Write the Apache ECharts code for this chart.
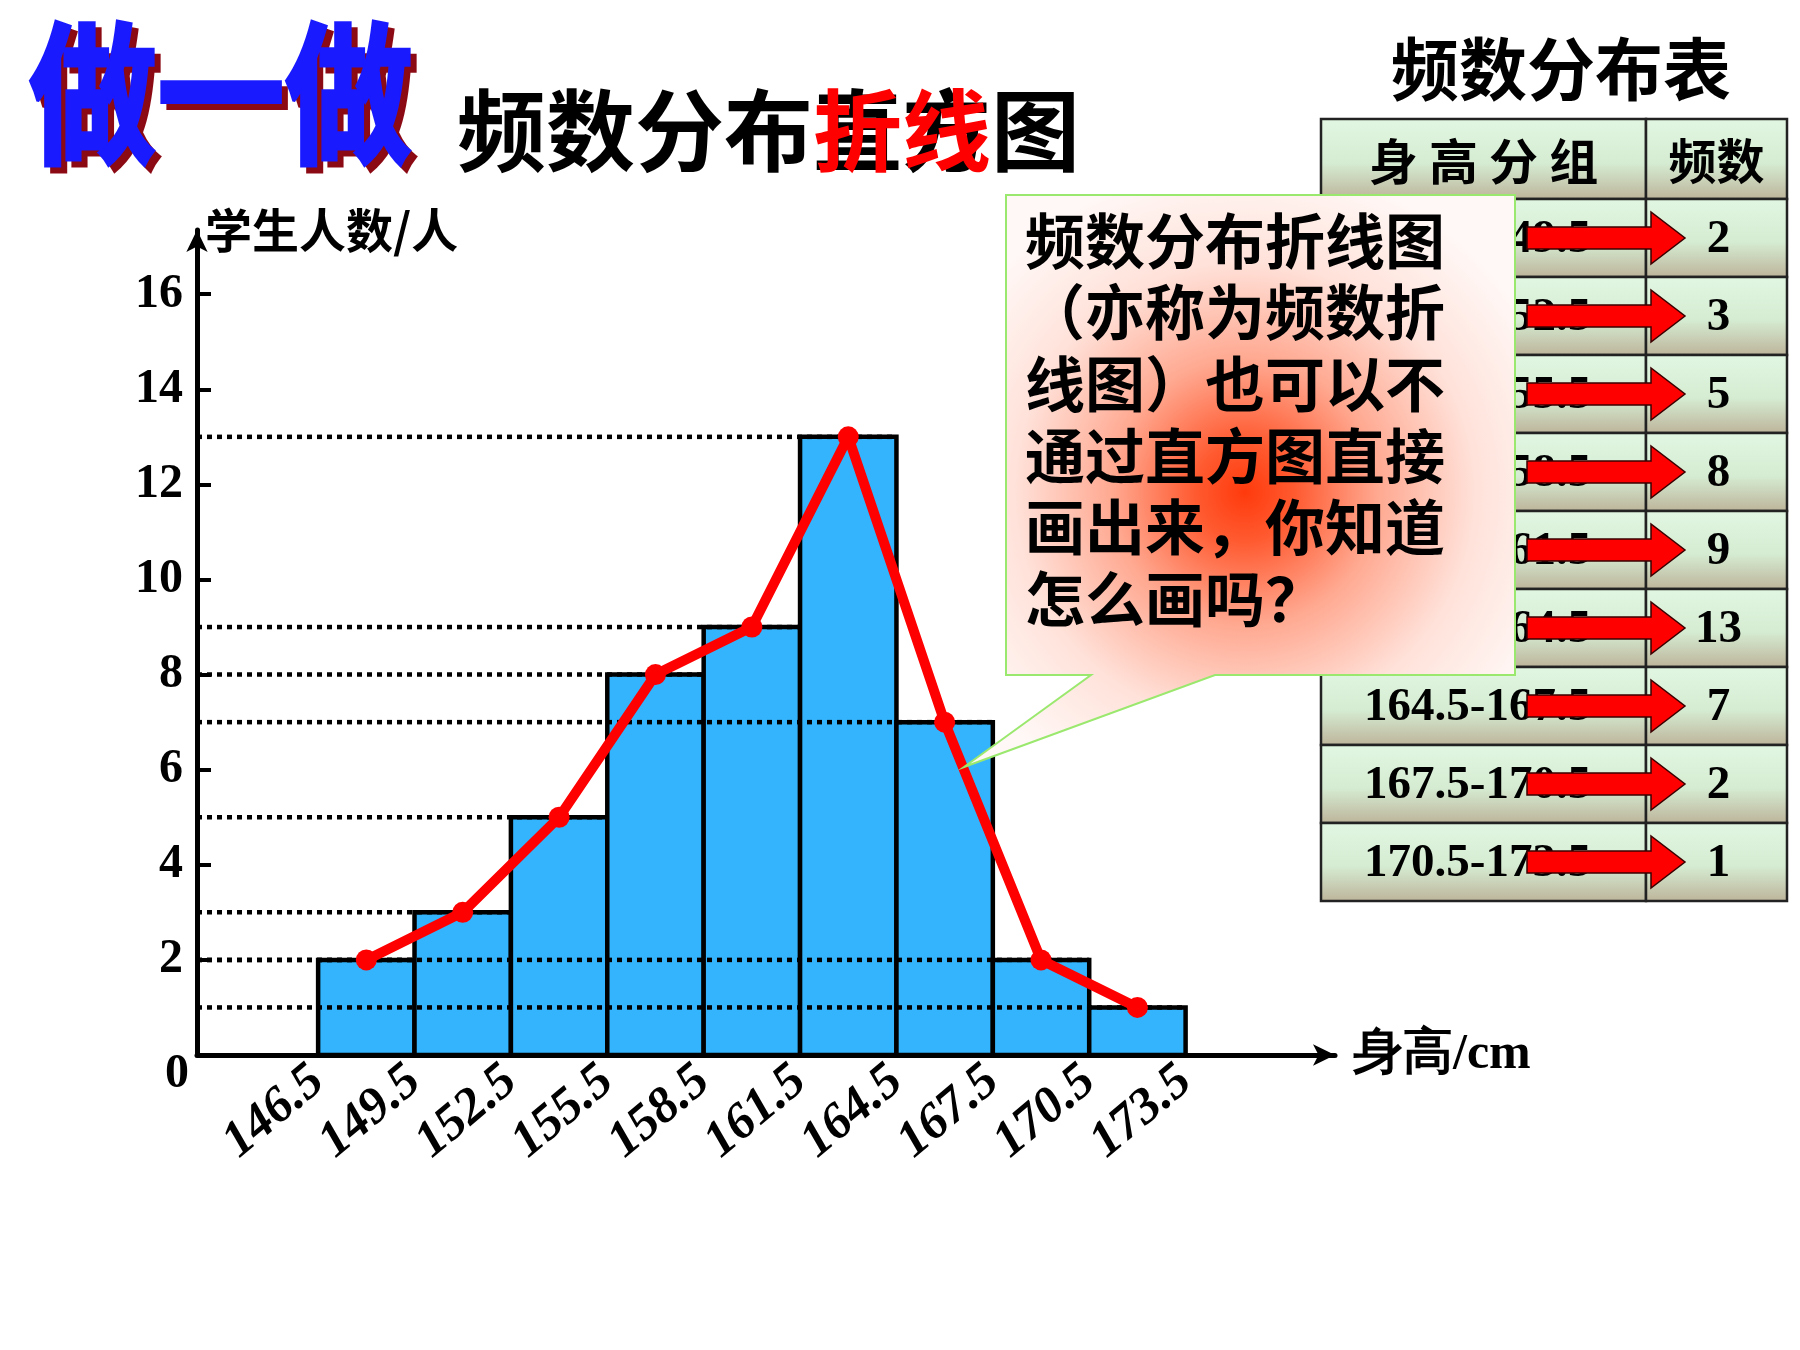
<!DOCTYPE html>
<html>
<head>
<meta charset="utf-8">
<title>频数分布折线图</title>
<script src="https://cdn.jsdelivr.net/npm/echarts@6/dist/echarts.min.js"></script>
<style>
html, body { margin: 0; padding: 0; background: #fff; }
#main { width: 1800px; height: 1350px; }
</style>
</head>
<body>
<div id="main"></div>
<script>
// bin edges (cm), class marks and counts
var edges = [146.5, 149.5, 152.5, 155.5, 158.5, 161.5, 164.5, 167.5, 170.5, 173.5];
var mids = [148, 151, 154, 157, 160, 163, 166, 169, 172];
var freq = [2, 3, 5, 8, 9, 13, 7, 2, 1];
var yTicks = [0, 2, 4, 6, 8, 10, 12, 14, 16];
var groups = ['146.5-149.5', '149.5-152.5', '152.5-155.5', '155.5-158.5', '158.5-161.5',
	'161.5-164.5', '164.5-167.5', '167.5-170.5', '170.5-173.5'];
var calloutLines = ['频数分布折线图', '（亦称为频数折', '线图）也可以不', '通过直方图直接', '画出来，你知道', '怎么画吗？'];

var SERIF = '"Liberation Serif", "Times New Roman", serif';
var HEI = '"Noto Sans CJK SC", sans-serif';

var barData = [];
var dotData = [];
var lineData = [];
for (var i = 0; i < freq.length; i++) {
	barData.push([edges[i], edges[i + 1], freq[i]]);
	dotData.push([edges[i + 1], freq[i]]);
	lineData.push([mids[i], freq[i]]);
}

// frequency table on the right
var tableEls = [];
var tx0 = 1321, tx1 = 1646, tx2 = 1787, headTop = 119, headH = 80, rowH = 78;
var cellFill = {
	type: 'linear', x: 0, y: 0, x2: 0, y2: 1,
	colorStops: [{ offset: 0, color: '#e2f7e2' }, { offset: 0.55, color: '#d5ecd2' }, { offset: 1, color: '#bcb399' }]
};
function cell(x, y, w, h) {
	tableEls.push({
		type: 'rect', z: 1,
		shape: { x: x, y: y, width: w, height: h },
		style: { fill: cellFill, stroke: '#222', lineWidth: 2.5 }
	});
}
cell(tx0, headTop, tx1 - tx0, headH);
cell(tx1, headTop, tx2 - tx1, headH);
tableEls.push({ type: 'text', z: 2, x: (tx0 + tx1) / 2, y: headTop + headH / 2 + 2,
	style: { text: '身 高 分 组', font: 'bold 49px ' + HEI, fill: '#000', align: 'center', verticalAlign: 'middle' } });
tableEls.push({ type: 'text', z: 2, x: (tx1 + tx2) / 2, y: headTop + headH / 2 + 2,
	style: { text: '频数', font: 'bold 48px ' + HEI, fill: '#000', align: 'center', verticalAlign: 'middle' } });
for (var r = 0; r < groups.length; r++) {
	var ry = headTop + headH + r * rowH;
	var cy = ry + rowH / 2;
	cell(tx0, ry, tx1 - tx0, rowH);
	cell(tx1, ry, tx2 - tx1, rowH);
	tableEls.push({ type: 'text', z: 2, x: 1364, y: cy + 2,
		style: { text: groups[r], font: 'bold 47px ' + SERIF, fill: '#000', align: 'left', verticalAlign: 'middle' } });
	tableEls.push({ type: 'text', z: 2, x: (tx1 + tx2) / 2 + 2, y: cy + 2,
		style: { text: String(freq[r]), font: 'bold 47px ' + SERIF, fill: '#000', align: 'center', verticalAlign: 'middle' } });
	tableEls.push({
		type: 'polygon', z: 3,
		shape: { points: [[1527, cy - 11], [1651, cy - 11], [1651, cy - 26], [1685, cy], [1651, cy + 26], [1651, cy + 11], [1527, cy + 11]] },
		style: { fill: '#ff0000', stroke: '#3a0000', lineWidth: 1.5 }
	});
}

// speech bubble
var bubbleEls = [{
	type: 'polygon', z: 10,
	shape: { points: [[1006, 195], [1515, 195], [1515, 675], [1215, 675], [964, 767], [1091, 675], [1006, 675]] },
	style: {
		fill: {
			type: 'radial', x: 1245, y: 492, r: 330, global: true,
			colorStops: [
				{ offset: 0, color: '#ff3a0c' },
				{ offset: 0.15, color: '#ff5a30' },
				{ offset: 0.4, color: '#ffa890' },
				{ offset: 0.7, color: '#ffe2da' },
				{ offset: 1, color: '#fff8f6' }
			]
		},
		stroke: '#9be86e', lineWidth: 2
	}
}];
for (var k = 0; k < calloutLines.length; k++) {
	bubbleEls.push({ type: 'text', z: 11, x: 1025, y: 241 + k * 71.6,
		style: { text: calloutLines[k], font: 'bold 60px ' + HEI, fill: '#000', align: 'left', verticalAlign: 'middle' } });
}

var titleEls = [
	{ type: 'text', z: 5, x: 35, y: 23, scaleY: 1.2,
		style: { text: '做一做', font: 'bold 128px ' + HEI, fill: '#8b0a14', stroke: '#8b0a14', lineWidth: 3, verticalAlign: 'top' } },
	{ type: 'text', z: 6, x: 29, y: 17, scaleY: 1.2,
		style: { text: '做一做', font: 'bold 128px ' + HEI, fill: '#1a1aff', stroke: '#1a1aff', lineWidth: 3, verticalAlign: 'top' } },
	{ type: 'text', z: 5, x: 457, y: 130,
		style: { text: '频数分布直方图', font: 'bold 89px ' + HEI, fill: '#000', verticalAlign: 'middle' } },
	{ type: 'text', z: 6, x: 457 + 4 * 89, y: 130,
		style: { text: '折线', font: 'bold 89px ' + HEI, fill: '#ff0000', verticalAlign: 'middle' } },
	{ type: 'text', z: 5, x: 1561, y: 69,
		style: { text: '频数分布表', font: 'bold 68px ' + HEI, fill: '#000', align: 'center', verticalAlign: 'middle' } },
	{ type: 'text', z: 5, x: 177, y: 1075,
		style: { text: '0', font: 'bold 48px ' + SERIF, fill: '#000', align: 'center', verticalAlign: 'middle' } }
];

var chart = echarts.init(document.getElementById('main'));
var option = {
	animation: false,
	backgroundColor: '#fff',
	grid: { left: 197, right: 465, top: 230, bottom: 295 },
	xAxis: {
		type: 'value',
		min: 142.73,
		max: 178.15,
		name: '身高/cm',
		nameLocation: 'end',
		nameGap: 18,
		nameTextStyle: { fontFamily: SERIF, fontWeight: 'bold', fontSize: 50, color: '#000' },
		axisLine: { onZero: false, symbol: ['none', 'arrow'], symbolSize: [16, 22], lineStyle: { color: '#000', width: 5 } },
		axisTick: { show: false },
		splitLine: { show: false },
		axisLabel: {
			customValues: edges,
			rotate: 40,
			margin: 20,
			fontFamily: SERIF, fontStyle: 'italic', fontWeight: 'bold', fontSize: 51, color: '#000',
			formatter: function (v) { return v.toFixed(1); }
		}
	},
	yAxis: {
		type: 'value',
		min: 0,
		max: 17.35,
		name: '学生人数/人',
		nameLocation: 'end',
		nameGap: 0,
		nameTextStyle: { fontFamily: HEI, fontWeight: 'bold', fontSize: 47, color: '#000', align: 'left', verticalAlign: 'middle', padding: [0, 0, 0, 8] },
		axisLine: { onZero: false, symbol: ['none', 'arrow'], symbolSize: [16, 22], lineStyle: { color: '#000', width: 5 } },
		axisTick: { show: true, inside: true, length: 14, customValues: yTicks, lineStyle: { color: '#000', width: 4 } },
		splitLine: { show: false },
		axisLabel: {
			customValues: yTicks,
			margin: 14,
			fontFamily: SERIF, fontWeight: 'bold', fontSize: 48, color: '#000',
			formatter: function (v) { return v === 0 ? '' : String(v); }
		}
	},
	series: [
		{
			type: 'custom',
			z: 2,
			data: barData,
			encode: { x: [0, 1], y: 2 },
			renderItem: function (params, api) {
				var p0 = api.coord([api.value(0), 0]);
				var p1 = api.coord([api.value(1), api.value(2)]);
				return {
					type: 'rect',
					shape: { x: p0[0], y: p1[1], width: p1[0] - p0[0], height: p0[1] - p1[1] },
					style: { fill: '#33b4fc', stroke: '#000', lineWidth: 4.5 }
				};
			}
		},
		{
			// dotted guides from the y axis to each bar top
			type: 'custom',
			z: 3,
			data: dotData,
			encode: { x: 0, y: 1 },
			renderItem: function (params, api) {
				var p = api.coord([api.value(0), api.value(1)]);
				return {
					type: 'line',
					shape: { x1: params.coordSys.x, y1: p[1], x2: p[0], y2: p[1] },
					style: { stroke: '#000', lineWidth: 4.5, lineDash: [5, 5] }
				};
			}
		},
		{
			type: 'line',
			z: 5,
			data: lineData,
			symbol: 'circle',
			symbolSize: 21,
			itemStyle: { color: '#ff0000' },
			lineStyle: { color: '#ff0000', width: 10 }
		}
	],
	graphic: { elements: titleEls.concat(tableEls, bubbleEls) }
};
chart.setOption(option);
</script>
</body>
</html>
